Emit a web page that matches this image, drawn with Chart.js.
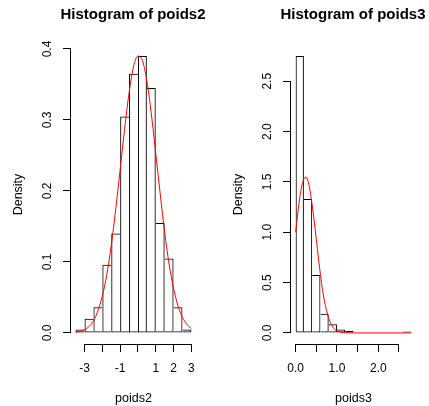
<!DOCTYPE html>
<html>
<head>
<meta charset="utf-8">
<script src="https://cdn.jsdelivr.net/npm/chart.js@4.4.0/dist/chart.umd.min.js"></script>
<style>
  html, body { margin: 0; padding: 0; background: #fff; overflow: hidden; }
  body { width: 429px; height: 406px; position: relative; }
  .panel { position: absolute; top: 0; width: 266px; height: 406px; }
</style>
</head>
<body>
<div class="panel" style="left:0px"><canvas id="hist2" width="266" height="406"></canvas></div>
<div class="panel" style="left:220px"><canvas id="hist3" width="266" height="406"></canvas></div>
<script>
// poids2 : bin breaks and densities
const breaks2 = [-3.5, -3, -2.5, -2, -1.5, -1, -0.5, 0, 0.5, 1, 1.5, 2, 2.5, 3];
const density2 = [0.005, 0.020, 0.036, 0.096, 0.140, 0.305, 0.365, 0.390, 0.345, 0.155, 0.105, 0.036, 0.005];
// red density curve
const curveX2 = [-3.5, -3.25, -3, -2.75, -2.5, -2.25, -2, -1.75, -1.5, -1.25, -1, -0.75, -0.5, -0.25,
                 0, 0.25, 0.5, 0.75, 1, 1.25, 1.5, 1.75, 2, 2.25, 2.5, 2.75, 3];
const curveY2 = [0.001, 0.002, 0.0045, 0.009, 0.017, 0.031, 0.052, 0.082, 0.123, 0.174, 0.230, 0.287, 0.338, 0.375,
                 0.390, 0.384, 0.355, 0.309, 0.253, 0.196, 0.142, 0.097, 0.063, 0.038, 0.022, 0.012, 0.006];
const xTicks2 = [-3, -2, -1, 0, 1, 2, 3];
const xLabels2 = ['-3', '', '-1', '', '1', '2', '3'];
const yTicks2 = [0, 0.1, 0.2, 0.3, 0.4];
const yLabels2 = ['0.0', '0.1', '0.2', '0.3', '0.4'];

// poids3
const breaks3 = [0, 0.2, 0.4, 0.6, 0.8, 1.0, 1.2, 1.4, 1.6, 1.8, 2.0, 2.2, 2.4, 2.6, 2.8];
const density3 = [2.75, 1.33, 0.575, 0.19, 0.086, 0.033, 0.02, 0, 0, 0, 0, 0, 0, 0.013];
const curveX3 = [0, 0.05, 0.1, 0.15, 0.2, 0.25, 0.3, 0.35, 0.4, 0.45, 0.5, 0.55, 0.6, 0.65, 0.7, 0.75,
                 0.8, 0.85, 0.9, 0.95, 1.0, 1.1, 1.2, 1.4, 2.8];
const curveY3 = [1.00, 1.18, 1.34, 1.46, 1.53, 1.55, 1.51, 1.41, 1.27, 1.11, 0.93, 0.75, 0.58, 0.43, 0.31, 0.22,
                 0.144, 0.093, 0.057, 0.034, 0.019, 0.006, 0.0015, 0, 0];
const xTicks3 = [0, 0.5, 1, 1.5, 2, 2.5];
const xLabels3 = ['0.0', '', '1.0', '', '2.0', ''];
const yTicks3 = [0, 0.5, 1, 1.5, 2, 2.5];
const yLabels3 = ['0.0', '0.5', '1.0', '1.5', '2.0', '2.5'];

Chart.defaults.font.family = "'Liberation Sans', Arial, sans-serif";
Chart.defaults.color = '#000';

// R style axes : line only from first to last tick
const rAxes = {
    id: 'rAxes',
    afterDraw(chart) {
        const {ctx, chartArea, scales: {x, y}} = chart;
        const xt = x.ticks, yt = y.ticks;
        ctx.save();
        ctx.strokeStyle = '#000';
        ctx.lineWidth = 1;
        ctx.beginPath();
        const by = Math.round(chartArea.bottom) + 0.5;
        ctx.moveTo(x.getPixelForValue(xt[0].value), by);
        ctx.lineTo(x.getPixelForValue(xt[xt.length - 1].value), by);
        const lx = Math.round(chartArea.left) - 0.5;
        ctx.moveTo(lx, y.getPixelForValue(yt[0].value));
        ctx.lineTo(lx, y.getPixelForValue(yt[yt.length - 1].value));
        ctx.stroke();
        ctx.restore();
    }
};

function makeHist(id, name, breaks, dens, cx, cy, xt, xl, yt, yl) {
    const xlo = breaks[0], xhi = breaks[breaks.length - 1];
    const yhi = Math.max(...dens);
    const dx = 0.04 * (xhi - xlo), dy = 0.04 * yhi;
    const bars = dens.map((d, i) => ({x: (breaks[i] + breaks[i + 1]) / 2, y: d}));

    // shared edges drawn once, by the taller bar
    const edges = (c) => {
        const i = c.dataIndex;
        if (i === undefined) return 1;
        return {
            top: 1, bottom: 1,
            left: (i === 0 || dens[i - 1] < dens[i]) ? 1 : 0,
            right: (i === dens.length - 1 || dens[i] >= dens[i + 1]) ? 1 : 0
        };
    };

    return new Chart(document.getElementById(id), {
        type: 'bar',
        data: {
            datasets: [{
                type: 'line',
                data: cx.map((x, i) => ({x: x, y: cy[i]})),
                borderColor: '#ff0000',
                borderWidth: 1,
                pointRadius: 0,
                cubicInterpolationMode: 'monotone',
                order: 0
            }, {
                type: 'bar',
                data: bars,
                backgroundColor: 'rgba(0,0,0,0)',
                borderColor: '#000',
                borderWidth: edges,
                borderSkipped: false,
                inflateAmount: 0,
                barPercentage: 1,
                categoryPercentage: 1,
                order: 1
            }]
        },
        options: {
            responsive: false,
            animation: false,
            layout: {padding: 0},
            plugins: {
                legend: {display: false},
                tooltip: {enabled: false},
                title: {
                    display: true,
                    text: 'Histogram of ' + name,
                    font: {size: 15, weight: 'bold'},
                    color: '#000',
                    padding: {top: 6, bottom: 21}
                }
            },
            scales: {
                x: {
                    type: 'linear',
                    min: xlo - dx,
                    max: xhi + dx,
                    offset: false,
                    grid: {drawOnChartArea: false, drawTicks: true, tickLength: 8, color: '#000', offset: false},
                    border: {display: false},
                    ticks: {autoSkip: false, padding: 9, maxRotation: 0, font: {size: 12},
                            callback: (v, i) => xl[i]},
                    afterBuildTicks: s => { s.ticks = xt.map(v => ({value: v})); },
                    afterFit: s => { s.height = 62; },
                    title: {display: true, text: name, font: {size: 12.5}, padding: {top: 0, bottom: 0}}
                },
                y: {
                    type: 'linear',
                    min: -dy,
                    max: yhi + dy,
                    grid: {drawOnChartArea: false, drawTicks: true, tickLength: 8, color: '#000'},
                    border: {display: false},
                    ticks: {autoSkip: false, padding: 7, minRotation: 90, maxRotation: 90, crossAlign: 'center',
                            font: {size: 12}, callback: (v, i) => yl[i]},
                    afterBuildTicks: s => { s.ticks = yt.map(v => ({value: v})); },
                    afterFit: s => { s.width = 71; },
                    title: {display: true, text: 'Density', font: {size: 12.5}, padding: {top: 11, bottom: 0}}
                },
                // empty right margin so the title centres over the plot, as in R
                margin: {
                    type: 'linear',
                    position: 'right',
                    grid: {display: false},
                    border: {display: false},
                    ticks: {display: false},
                    afterFit: s => { s.width = 70; }
                }
            }
        },
        plugins: [rAxes]
    });
}

makeHist('hist2', 'poids2', breaks2, density2, curveX2, curveY2, xTicks2, xLabels2, yTicks2, yLabels2);
makeHist('hist3', 'poids3', breaks3, density3, curveX3, curveY3, xTicks3, xLabels3, yTicks3, yLabels3);
</script>
</body>
</html>
